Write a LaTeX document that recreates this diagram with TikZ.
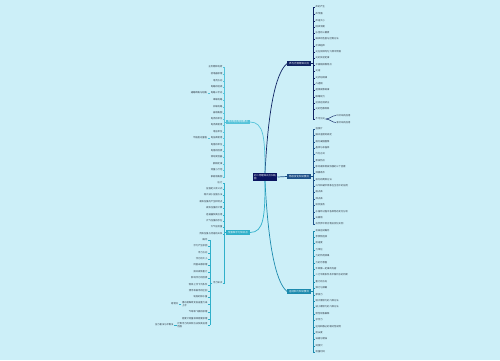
\documentclass[tikz,border=0pt]{standalone}
\usepackage{fontspec}
\newfontfamily\cjk{Noto Sans CJK SC}
\usepackage{tikz}
\usetikzlibrary{calc,positioning}
\definecolor{mmbg}{HTML}{CCEFF8}
\definecolor{mmroot}{HTML}{0B1560}
\definecolor{mmA}{HTML}{0F2363}
\definecolor{mmB}{HTML}{1D5289}
\definecolor{mmC}{HTML}{1C8AAE}
\definecolor{mmD}{HTML}{55C3DA}
\definecolor{mmE}{HTML}{2FB0CA}
\definecolor{mmtext}{HTML}{2B3440}
\tikzset{
 mm root/.style={fill=mmroot,text=white,font=\cjk\fontsize{2.4}{3}\selectfont,
                 inner xsep=1.5pt,inner ysep=1.2pt,align=left},
 mm main/.style={fill=#1,text=white,font=\cjk\fontsize{2.5}{3}\selectfont,
                 inner xsep=2pt,inner ysep=0.9pt},
 mm leaf/.style={text=mmtext,font=\cjk\fontsize{2.3}{2.8}\selectfont,
                 inner sep=0.5pt,align=left},
 mm link/.style={line width=0.7pt,draw=#1},
 mm trunk/.style={line width=0.45pt,draw=#1}
}

\begin{document}
\begin{tikzpicture}[x=1pt,y=1pt]
 \path[use as bounding box,fill=mmbg] (0,0) rectangle (500,-360);

 \node[mm root] (root) at (265,-177) {初二物理知识点归纳\\图};
 \node[mm main=mmA,anchor=west] (a) at (287,-63.5) {声与光现象知识点};
 \node[mm main=mmB,anchor=west] (b) at (287,-176.5) {物态变化知识要点};
 \node[mm main=mmC,anchor=west] (c) at (287,-291.5) {运动和力知识要点};
 \node[mm main=mmD,anchor=east] (d) at (250,-122) {电流电压电阻要点};
 \node[mm main=mmE,anchor=east] (e) at (250,-232.5) {压强和浮力知识点};

 % links from the root
 \draw[mm link=mmA] (root.north) .. controls +(3,60) and +(-12,-10) .. (a.west);
 \draw[mm link=mmB] (root.east) -- (b.west);
 \draw[mm link=mmC] (root.south) .. controls +(3,-60) and +(-12,10) .. (c.west);
 \draw[mm link=mmD] (root.north) .. controls +(0,35) and +(14,0) .. (d.east);
 \draw[mm link=mmE] (root.south) .. controls +(0,-35) and +(14,0) .. (e.east);

 % branch A
 \coordinate (aT) at (313.2,-63.5);
 \foreach \y/\t [count=\i] in {7/声的产生,14/声传播,21/声速大小,27/回声测距,
   33/乐音的三要素,39/噪声的危害与控制方法,46/次声超声,52/光在同种均匀介质中传播,
   58/光的反射定律,65/平面镜成像特点,71/光速,78/光折射规律,84/凸透镜,
   90/透镜成像规律,97/眼睛视力,103/近视远视矫正,109/光的色散现象,119/不可见光}
   \node[mm leaf,anchor=west] (a\i) at (315,-\y) {\t};
 \draw[mm trunk=mmA] (a.east) -- (aT);
 \draw[mm trunk=mmA] (aT |- a1.west) -- (aT |- a18.west);
 \foreach \i in {1,...,18} \draw[mm trunk=mmA] (aT |- a\i.west) -- (a\i.west);
 \node[mm leaf,anchor=west] (a18u) at (336,-115.5) {红外线的应用};
 \node[mm leaf,anchor=west] (a18v) at (336,-122.5) {紫外线的应用};
 \draw[mm trunk=mmA] (a18.east) to[out=0,in=180] (a18u.west);
 \draw[mm trunk=mmA] (a18.east) to[out=0,in=180] (a18v.west);

 % branch B
 \coordinate (bT) at (313.2,-176.5);
 \foreach \y/\t [count=\i] in {129/温度计,135/摄氏温度的规定,142/熔化凝固图像,
   148/晶体与非晶体,154/汽化方式,161/蒸发特点,167/影响液体蒸发快慢的三个因素,
   173/沸腾条件,180/液化的两种方法,186/升华和凝华现象在生活中的应用,192/熔点表,
   199/沸点表,205/吸热放热,212/水循环过程中各种物态变化分析,218/云雾雨,
   224/自然界中常见物态变化实例}
   \node[mm leaf,anchor=west] (b\i) at (315,-\y) {\t};
 \draw[mm trunk=mmB] (b.east) -- (bT);
 \draw[mm trunk=mmB] (bT |- b1.west) -- (bT |- b16.west);
 \foreach \i in {1,...,16} \draw[mm trunk=mmB] (bT |- b\i.west) -- (b\i.west);

 % branch C
 \coordinate (cT) at (313.2,-291.5);
 \foreach \y/\t [count=\i] in {231/机械运动概念,237/参照物选择,243/测速度,250/力单位,
   256/力的作用效果,263/力的示意图,269/牛顿第一定律的内容,275/二力平衡条件及平衡状态的判断,
   282/重力的方向,288/弹力与弹簧,295/摩擦力,301/增大摩擦力的几种方法,
   307/减小摩擦力的几种方法,314/惯性现象解释,320/求合力,327/运动和静止的相对性说明,
   333/测长度,339/误差与错误,346/刻度尺,352/测量时间}
   \node[mm leaf,anchor=west] (c\i) at (315,-\y) {\t};
 \draw[mm trunk=mmC] (c.east) -- (cT);
 \draw[mm trunk=mmC] (cT |- c1.west) -- (cT |- c20.west);
 \foreach \i in {1,...,20} \draw[mm trunk=mmC] (cT |- c\i.west) -- (c\i.west);

 % branch D
 \coordinate (dT) at (224.6,-122);
 \foreach \y/\t [count=\i] in {67/正负两种电荷,74/验电器原理,81/电流方向,87/电路的组成,
   93/电路三状态,100/串联电路,107/并联电路,113/画电路图,119/电流的单位,125/电流表使用,
   132/电压单位,138/电压表使用,145/电阻的单位,151/电阻的因素,157/滑动变阻器,
   164/欧姆定律,170/测量小灯泡,177/家庭电路图}
   \node[mm leaf,anchor=east] (d\i) at (223,-\y) {\t};
 \draw[mm trunk=mmD] (d.west) -- (dT);
 \draw[mm trunk=mmD] (dT |- d1.east) -- (dT |- d18.east);
 \foreach \i in {1,...,18} \draw[mm trunk=mmD] (dT |- d\i.east) -- (d\i.east);
 \node[mm leaf,left=2.5pt of d5] (d5s) {通路断路与短路};
 \node[mm leaf,left=2.5pt of d12] (d12s) {不能超过量程};
 \draw[mm trunk=mmD] (d5.west) -- (d5s.east);
 \draw[mm trunk=mmD] (d12.west) -- (d12s.east);

 % branch E
 \coordinate (eT) at (224.6,-232.5);
 \foreach \y/\t [count=\i] in {183/压力,189/压强定义及公式,195/增大减小压强方法,
   202/液体压强的产生和特点,208/液体压强的计算,215/连通器及其应用,221/大气压强的存在,
   227/大气压测量,234/流体压强与流速的关系,283/浮力知识}
   \node[mm leaf,anchor=east] (e\i) at (223,-\y) {\t};
 \draw[mm trunk=mmE] (e.west) -- (eT);
 \draw[mm trunk=mmE] (eT |- e1.east) -- (eT |- e10.east);
 \foreach \i in {1,...,10} \draw[mm trunk=mmE] (eT |- e\i.east) -- (e\i.east);

 % floating force sub-branch
 \coordinate (fT) at (209.8,-283);
 \foreach \y/\t [count=\i] in {240/概念,246/浮力产生原因,253/浮力方向,259/浮力的大小,
   265/阿基米德原理,272/排开液体重力,278/影响浮力的因素,285/物体上浮下沉条件,
   291/漂浮和悬浮的区别,297/轮船的排水量,304/潜水艇靠改变自身重力来\\上浮,
   312/气球和飞艇的原理,319/密度计测量液体密度原理,325/计算浮力的四种方法及其适用\\范围}
   \node[mm leaf,anchor=east] (f\i) at (208,-\y) {\t};
 \draw[mm trunk=mmE] (e10.west) -- (fT);
 \draw[mm trunk=mmE] (fT |- f1.east) -- (fT |- f14.east);
 \foreach \i in {1,...,14} \draw[mm trunk=mmE] (fT |- f\i.east) -- (f\i.east);
 \node[mm leaf,left=2.5pt of f11] (f11s) {易错点};
 \node[mm leaf,left=2.5pt of f14] (f14s) {压力差法与平衡法};
 \draw[mm trunk=mmE] (f11.west) -- (f11s.east);
 \draw[mm trunk=mmE] (f14.west) -- (f14s.east);
\end{tikzpicture}
\end{document}
